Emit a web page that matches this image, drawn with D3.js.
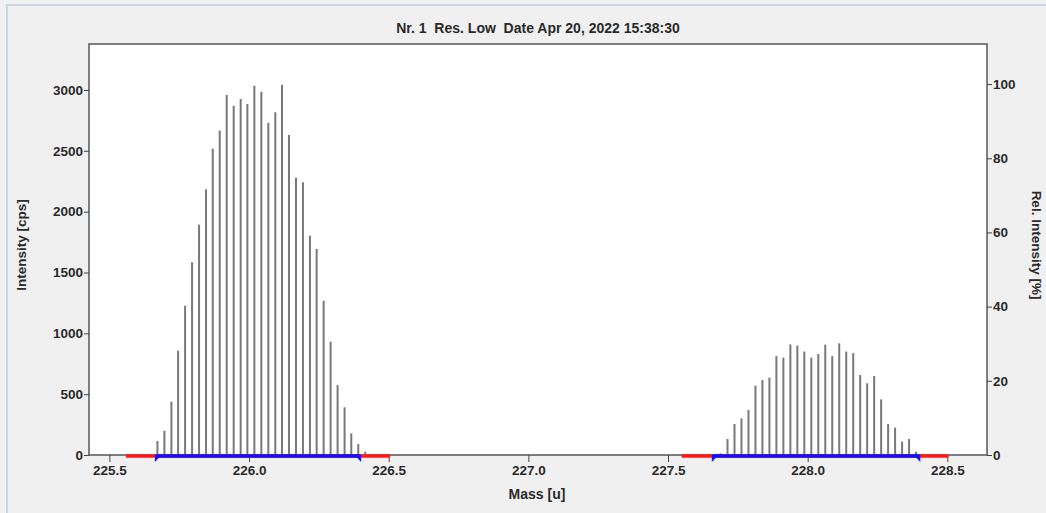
<!DOCTYPE html>
<html>
<head>
<meta charset="utf-8">
<script src="https://cdn.jsdelivr.net/npm/d3@7"></script>
<style>
  html, body { margin: 0; padding: 0; background: #f0f0f0; }
  svg { display: block; }
  text { font-family: "Liberation Sans", Arial, sans-serif; fill: #2a2a2a; }
  .axis text { font-size: 13.5px; font-weight: bold; }
  .axis line { stroke: #444; }
</style>
</head>
<body>
<svg id="chart"></svg>
<script>
// peak 1 (around 226 u)
const massA = [225.672, 225.697, 225.722, 225.746, 225.771, 225.796, 225.821, 225.846, 225.870, 225.895,
               225.920, 225.945, 225.970, 225.994, 226.019, 226.044, 226.069, 226.094, 226.118, 226.143,
               226.168, 226.193, 226.218, 226.242, 226.267, 226.292, 226.317, 226.342, 226.366, 226.391, 226.416];
const cpsA = [115, 200, 438, 857, 1227, 1584, 1893, 2184, 2518, 2668,
              2959, 2871, 2926, 2885, 3035, 2986, 2731, 2817, 3044, 2630,
              2279, 2241, 1803, 1693, 1268, 931, 575, 392, 178, 90, 27];

// peak 2 (around 228 u)
const massB = [227.688, 227.713, 227.738, 227.763, 227.788, 227.813, 227.838, 227.863, 227.888, 227.913,
               227.938, 227.963, 227.988, 228.013, 228.038, 228.063, 228.088, 228.113, 228.138, 228.163,
               228.188, 228.213, 228.238, 228.263, 228.288, 228.313, 228.338, 228.363, 228.388];
const cpsB = [14, 131, 255, 301, 370, 570, 616, 636, 814, 800,
              909, 899, 850, 800, 830, 907, 814, 918, 850, 838,
              657, 589, 649, 457, 255, 225, 110, 131, 27];

// integration windows (red) and peak ranges (blue)
const redRanges = [[225.559, 226.505], [227.549, 228.504]];
const blueRanges = [[225.670, 226.394], [227.664, 228.396]];

const massTicks = [225.5, 226.0, 226.5, 227.0, 227.5, 228.0, 228.5];
const cpsTicks = [0, 500, 1000, 1500, 2000, 2500, 3000];
const relTicks = [0, 20, 40, 60, 80, 100];

const titleText = "Nr. 1  Res. Low  Date Apr 20, 2022 15:38:30";

const W = 1046, H = 513;
const margin = { top: 44, right: 59, bottom: 58, left: 89 };

const svg = d3.select('#chart').attr('width', W).attr('height', H);

// outer panel border
svg.append('rect').attr('x', 0).attr('y', 0).attr('width', W).attr('height', H).attr('fill', '#f0f0f0');
svg.append('line').attr('x1', 6).attr('x2', W).attr('y1', 5).attr('y2', 5)
    .attr('stroke', '#c9d5e2').attr('stroke-width', 2);
svg.append('line').attr('x1', 7).attr('x2', 7).attr('y1', 5).attr('y2', H)
    .attr('stroke', '#c9d5e2').attr('stroke-width', 2);

const x = d3.scaleLinear().domain([225.427, 228.642]).range([margin.left, W - margin.right]);
const y = d3.scaleLinear().domain([0, 3378]).range([H - margin.bottom, margin.top]);
const yRel = d3.scaleLinear().domain([0, 110.8]).range([H - margin.bottom, margin.top]);

// plot frame
svg.append('rect')
    .attr('x', margin.left).attr('y', margin.top)
    .attr('width', W - margin.left - margin.right)
    .attr('height', H - margin.top - margin.bottom)
    .attr('fill', '#fff').attr('stroke', '#555').attr('stroke-width', 1.5);

// bars
const bars = massA.map((m, i) => ({ m: m, v: cpsA[i] }))
    .concat(massB.map((m, i) => ({ m: m, v: cpsB[i] })));

svg.append('g').selectAll('line')
    .data(bars)
    .enter()
    .append('line')
    .attr('x1', d => x(d.m)).attr('x2', d => x(d.m))
    .attr('y1', y(0)).attr('y2', d => y(d.v))
    .attr('stroke', '#787878').attr('stroke-width', 2);

// axes
const xAxis = d3.axisBottom(x).tickValues(massTicks).tickFormat(d3.format('.1f')).tickSize(7).tickPadding(3);
const yAxis = d3.axisLeft(y).tickValues(cpsTicks).tickFormat(d3.format('d')).tickSize(5).tickPadding(1);
const rAxis = d3.axisRight(yRel).tickValues(relTicks).tickFormat(d3.format('d')).tickSize(5).tickPadding(1);

svg.append('g').attr('class', 'axis x-axis')
    .attr('transform', `translate(0,${H - margin.bottom})`)
    .call(xAxis)
    .call(g => g.select('.domain').remove());

svg.append('g').attr('class', 'axis y-axis')
    .attr('transform', `translate(${margin.left},0)`)
    .call(yAxis)
    .call(g => g.select('.domain').remove());

svg.append('g').attr('class', 'axis r-axis')
    .attr('transform', `translate(${W - margin.right},0)`)
    .call(rAxis)
    .call(g => g.select('.domain').remove());

// baseline ranges
const baseY = y(0) + 1;
svg.append('g').selectAll('line')
    .data(redRanges)
    .enter()
    .append('line')
    .attr('x1', d => x(d[0])).attr('x2', d => x(d[1]))
    .attr('y1', baseY).attr('y2', baseY)
    .attr('stroke', '#ff1a1a').attr('stroke-width', 3.5);

svg.append('g').selectAll('line')
    .data(blueRanges)
    .enter()
    .append('line')
    .attr('x1', d => x(d[0])).attr('x2', d => x(d[1]))
    .attr('y1', baseY).attr('y2', baseY)
    .attr('stroke', '#1010ff').attr('stroke-width', 3.5);

const ends = [];
blueRanges.forEach(r => { ends.push({ m: r[0], s: -1 }); ends.push({ m: r[1], s: 1 }); });
svg.append('g').selectAll('path')
    .data(ends)
    .enter()
    .append('path')
    .attr('d', d => {
        const px = x(d.m);
        return `M${px - 5 * d.s},${baseY - 1.5} L${px + 2 * d.s},${baseY - 1.5} L${px + 2 * d.s},${baseY + 6} Z`;
    })
    .attr('fill', '#1010ff');

// title and labels
svg.append('text')
    .attr('x', 538).attr('y', 33)
    .attr('text-anchor', 'middle')
    .style('font-size', '14px').style('font-weight', 'bold').style('white-space', 'pre')
    .text(titleText);

svg.append('text')
    .attr('x', 537).attr('y', 499)
    .attr('text-anchor', 'middle')
    .style('font-size', '14px').style('font-weight', 'bold')
    .text('Mass [u]');

svg.append('text')
    .attr('transform', 'translate(26,245) rotate(-90)')
    .attr('text-anchor', 'middle')
    .style('font-size', '13.5px').style('font-weight', 'bold')
    .text('Intensity [cps]');

svg.append('text')
    .attr('transform', 'translate(1032,245) rotate(90)')
    .attr('text-anchor', 'middle')
    .style('font-size', '13.5px').style('font-weight', 'bold')
    .text('Rel. Intensity [%]');
</script>
</body>
</html>
